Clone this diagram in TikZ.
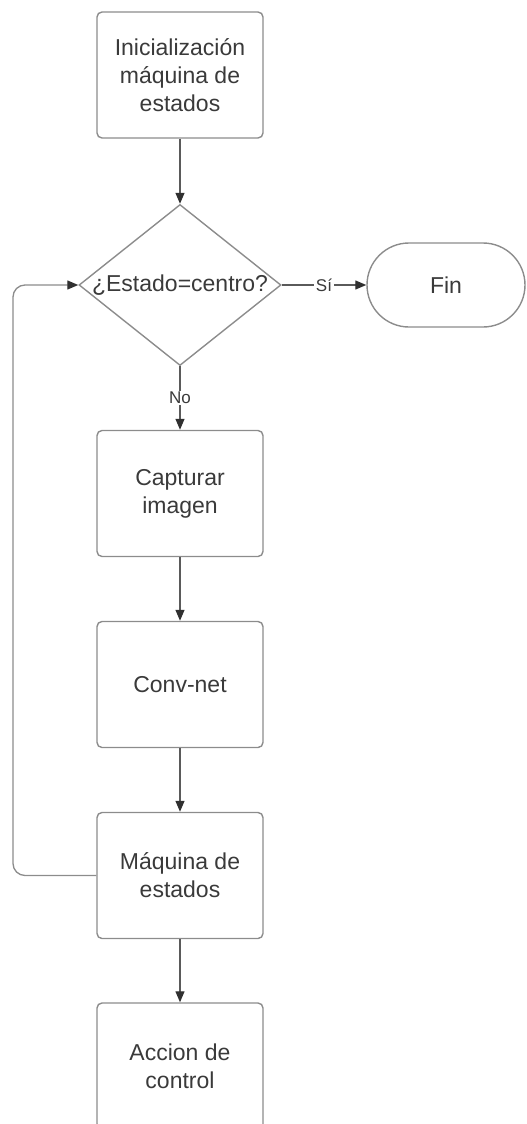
\documentclass[tikz,border=0pt]{standalone}
\usepackage{fontspec}
\setmainfont{Liberation Sans}
\usetikzlibrary{shapes.geometric,arrows.meta}
\definecolor{txtc}{HTML}{3A3A3A}
\definecolor{shapec}{HTML}{8C8C8C}
\definecolor{linec}{HTML}{5A5A5A}
\definecolor{tipc}{HTML}{303030}
\tikzset{
  stepbox/.style={draw=shapec, line width=1.4pt, rounded corners=5pt,
    minimum width=166pt, minimum height=126pt, inner sep=0pt,
    align=center, text=txtc, font=\fontsize{23}{28}\selectfont},
  decision/.style={diamond, draw=shapec, line width=1.4pt,
    minimum width=202pt, minimum height=161pt, inner sep=0pt},
  terminal/.style={draw=shapec, line width=1.4pt, rounded corners=42pt,
    minimum width=158pt, minimum height=84pt, inner sep=0pt,
    text=txtc, font=\fontsize{23}{28}\selectfont},
  plain/.style={text=txtc, font=\fontsize{23}{28}\selectfont, inner sep=0pt},
  flow/.style={draw=linec, line width=1.3pt,
    -{Triangle[length=11pt,width=9pt,fill=tipc,color=tipc]}},
  edgelabel/.style={fill=white, inner sep=1.5pt, text=txtc,
    font=\fontsize{17}{20}\selectfont},
}
\begin{document}
\begin{tikzpicture}[x=1pt,y=-1pt]
  \useasboundingbox (0,0) rectangle (527,1124);
  \clip (0,0) rectangle (527,1124);

  % process chain
  \node[stepbox] (init) at (180,75)    {Inicialización\\máquina de\\estados};
  \node[decision] (dec) at (180,285)   {};
  \node[plain] (dectxt) at (180,285)   {¿Estado=centro?};
  \node[terminal] (fin) at (446,285)   {Fin};
  \node[stepbox] (cap) at (180,493.5)  {Capturar\\imagen};
  \node[stepbox] (conv) at (180,684.5) {Conv-net};
  \node[stepbox] (maq) at (180,875.5)  {Máquina de\\estados};
  \node[stepbox] (acc) at (180,1066)   {Accion de\\control};

  % connectors
  \draw[flow] (init) -- (dec.north);
  \draw[flow] (dec.east) -- node[edgelabel] {Sí} (fin.west);
  \draw[flow] (dec.south) -- node[edgelabel, pos=0.5] {No} (cap.north);
  \draw[flow] (cap) -- (conv);
  \draw[flow] (conv) -- (maq);
  \draw[flow] (maq) -- (acc);

  % feedback loop back to the decision
  \coordinate (loopx) at (13,0);
  \draw[flow, draw=shapec, rounded corners=12pt]
    (maq.west) -- (loopx |- maq.west) -- (loopx |- dec.west) -- (dec.west);
\end{tikzpicture}
\end{document}
